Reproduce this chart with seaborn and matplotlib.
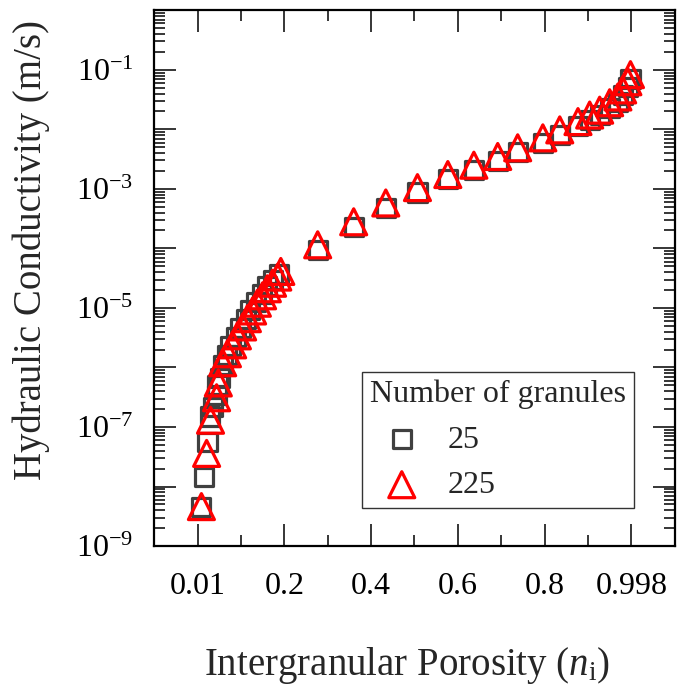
import numpy as np
import matplotlib
matplotlib.use("Agg")
import matplotlib.pyplot as plt
import matplotlib.ticker as mticker
import seaborn as sns

# values
n_25 = [0.008, 0.014, 0.023, 0.028, 0.035, 0.044, 0.046, 0.051, 0.058, 0.067,
        0.076, 0.088, 0.099, 0.111, 0.122, 0.134, 0.148, 0.161, 0.175, 0.187,
        0.277, 0.36, 0.434, 0.507, 0.577, 0.637, 0.692, 0.738, 0.796, 0.835,
        0.877, 0.904, 0.927, 0.950, 0.969, 0.980, 0.992, 0.998]
k_25 = [4.6e-9, 1.45e-8, 5.6e-8, 1.5e-7, 2.2e-7, 3.5e-7, 5.1e-7, 6.6e-7, 1.1e-6, 1.6e-6,
        2.3e-6, 3.2e-6, 4.6e-6, 6.6e-6, 9.3e-6, 1.26e-5, 1.74e-5, 2.3e-5, 2.95e-5, 3.7e-5,
        9.5e-5, 2.3e-4, 4.8e-4, 8.7e-4, 1.45e-3, 2.1e-3, 2.9e-3, 4.1e-3, 6.0e-3, 8.1e-3,
        1.12e-2, 1.45e-2, 1.75e-2, 2.3e-2, 2.9e-2, 3.8e-2, 5.2e-2, 6.9e-2]

n_225 = [0.009, 0.021, 0.030, 0.044, 0.048, 0.058, 0.069, 0.081, 0.092, 0.104,
         0.115, 0.127, 0.138, 0.150, 0.161, 0.173, 0.185, 0.192,
         0.277, 0.36, 0.434, 0.507, 0.577, 0.637, 0.692, 0.738, 0.796, 0.835,
         0.877, 0.904, 0.927, 0.950, 0.969, 0.980, 0.992, 0.998]
k_225 = [4.6e-9, 3.6e-8, 1.3e-7, 3.1e-7, 5.5e-7, 1.2e-6, 1.7e-6, 2.4e-6, 3.4e-6, 4.8e-6,
         6.6e-6, 8.9e-6, 1.2e-5, 1.6e-5, 2.1e-5, 2.6e-5, 3.3e-5, 4.1e-5,
         1.15e-4, 2.8e-4, 5.8e-4, 1.05e-3, 1.74e-3, 2.5e-3, 3.5e-3, 4.9e-3, 7.2e-3, 9.8e-3,
         1.35e-2, 1.74e-2, 2.1e-2, 2.8e-2, 3.5e-2, 4.6e-2, 6.3e-2, 8.3e-2]

xtick_pos = [0.0, 0.2, 0.4, 0.6, 0.8, 1.0]
xtick_lab = ["0.01", "0.2", "0.4", "0.6", "0.8", "0.998"]

sns.set_style("ticks")
plt.rcParams["font.family"] = ["Liberation Serif", "DejaVu Serif"]
plt.rcParams["mathtext.fontset"] = "custom"
plt.rcParams["mathtext.rm"] = "Liberation Serif"
plt.rcParams["mathtext.it"] = "Liberation Serif:italic"

fig = plt.figure(figsize=(6.85, 6.86), dpi=100)
ax = fig.add_axes([0.225, 0.204, 0.76, 0.781])

sns.scatterplot(x=n_25, y=k_25, ax=ax, marker="s", s=170, facecolor="none",
                edgecolor="#404040", linewidth=2.3, label="25", zorder=2)
sns.scatterplot(x=n_225, y=k_225, ax=ax, marker="^", s=350, facecolor="none",
                edgecolor="#ff0000", linewidth=2.3, label="225", zorder=3)

ax.set_yscale("log")
ax.set_xlim(-0.1, 1.1)
ax.set_ylim(1e-9, 1)

ax.set_xticks(xtick_pos)
ax.set_xticklabels(xtick_lab)
ax.xaxis.set_minor_locator(mticker.FixedLocator([0.1, 0.3, 0.5, 0.7, 0.9]))

ax.yaxis.set_major_locator(mticker.LogLocator(base=10, subs=(1.0,), numticks=20))
ax.yaxis.set_minor_locator(mticker.LogLocator(base=10, subs=np.arange(2, 10), numticks=200))
ax.yaxis.set_minor_formatter(mticker.NullFormatter())


def fmt(v, pos):
    e = int(round(np.log10(v)))
    if e % 2 == 0:
        return ""
    return r"$\mathregular{10^{%d}}$" % e


ax.yaxis.set_major_formatter(mticker.FuncFormatter(fmt))

ax.tick_params(which="both", direction="in", top=True, right=True, colors="black",
               labelsize=23)
ax.tick_params(which="major", length=16, width=1.1)
ax.tick_params(which="minor", length=8, width=1.1)
ax.tick_params(axis="x", pad=19)
ax.tick_params(axis="y", pad=15)
for sp in ax.spines.values():
    sp.set_linewidth(1.6)
    sp.set_color("black")

ax.set_xlabel(r"Intergranular Porosity ($n_\mathregular{i}$)", fontsize=28)
ax.set_ylabel("Hydraulic Conductivity (m/s)", fontsize=28)
ax.xaxis.set_label_coords(0.486, -0.185)
ax.yaxis.set_label_coords(-0.2, 0.552)

leg = ax.legend(title="Number of granules", loc="upper left",
                bbox_to_anchor=(0.399, 0.325), fontsize=23, title_fontsize=23,
                frameon=True, fancybox=False, borderpad=0.25, handletextpad=0.45,
                labelspacing=0.5, borderaxespad=0)
leg._legend_box.align = "left"
leg.get_frame().set_edgecolor("black")
leg.get_frame().set_linewidth(1.0)

fig.savefig("out.png", dpi=100)
